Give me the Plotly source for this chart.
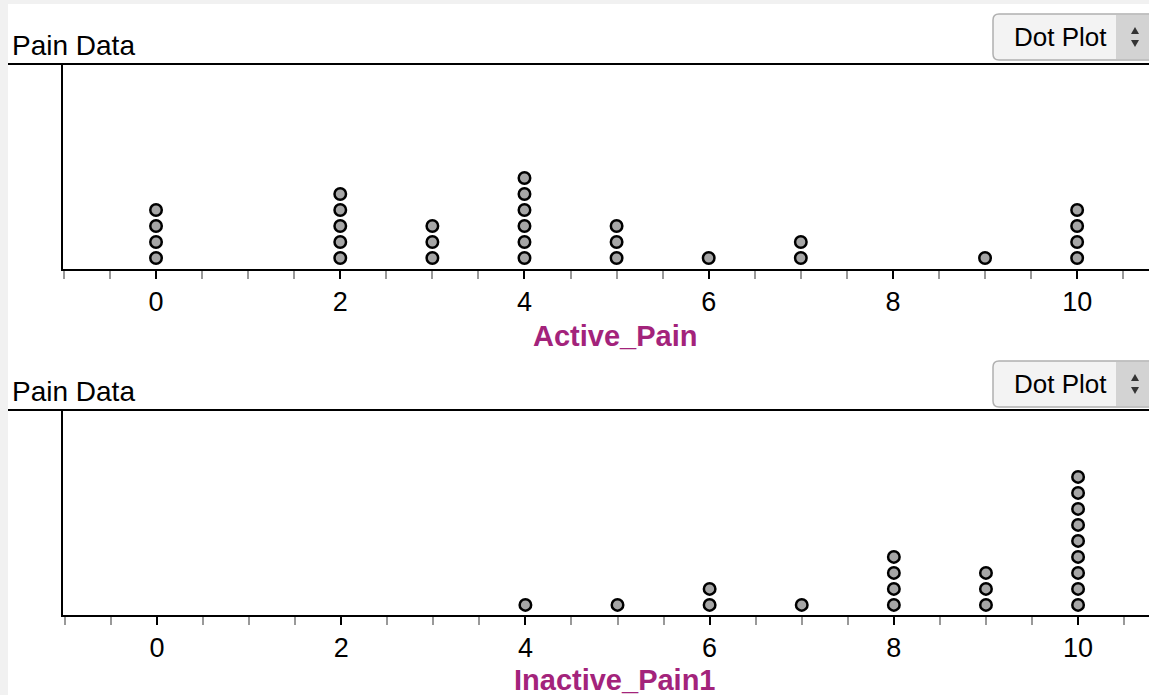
import plotly.graph_objects as go
from collections import Counter

# ---------------- data ----------------
active_pain = [0, 0, 0, 0,
               2, 2, 2, 2, 2,
               3, 3, 3,
               4, 4, 4, 4, 4, 4,
               5, 5, 5,
               6,
               7, 7,
               9,
               10, 10, 10, 10]
inactive_pain1 = [4,
                  5,
                  6, 6,
                  7,
                  8, 8, 8, 8,
                  9, 9, 9,
                  10, 10, 10, 10, 10, 10, 10, 10, 10]
tick_vals = [0, 2, 4, 6, 8, 10]
tick_text = ["0", "2", "4", "6", "8", "10"]
panel_title = "Pain Data"
attr_top = "Active_Pain"
attr_bottom = "Inactive_Pain1"
button_text = "Dot Plot"

W, H = 1149, 695


def px(x):
    return x / W


def py(y):
    return (H - y) / H


def stack(values):
    seen = Counter()
    xs, ys = [], []
    for v in values:
        xs.append(v)
        ys.append(seen[v])
        seen[v] += 1
    return xs, ys


fig = go.Figure()

marker = dict(size=11.5, color="#a6a6a6", line=dict(color="black", width=2.5))

x1, s1 = stack(active_pain)
x2, s2 = stack(inactive_pain1)
fig.add_trace(go.Scatter(x=x1, y=[s + 0.69 for s in s1], mode="markers",
                         marker=marker, xaxis="x", yaxis="y", hoverinfo="x"))
fig.add_trace(go.Scatter(x=x2, y=[s + 0.63 for s in s2], mode="markers",
                         marker=marker, xaxis="x2", yaxis="y2", hoverinfo="x"))

tick_font = dict(family="Liberation Sans, Arial", size=27, color="black")


def xaxis_cfg(anchor, rng):
    return dict(domain=[px(63), 1], range=rng, anchor=anchor,
                showline=True, linecolor="black", linewidth=2,
                ticks="outside", ticklen=8, tickwidth=2, tickcolor="black",
                tickvals=tick_vals, ticktext=tick_text, tickfont=tick_font,
                minor=dict(dtick=0.5, tick0=0, ticks="outside", ticklen=8,
                           tickwidth=2, tickcolor="#999999"),
                showgrid=False, zeroline=False, fixedrange=True)


def yaxis_cfg(anchor, top, bottom, rng):
    return dict(domain=[py(bottom), py(top)], range=rng, anchor=anchor,
                showline=True, linecolor="black", linewidth=2,
                showticklabels=False, ticks="", showgrid=False, zeroline=False,
                fixedrange=True)


fig.update_layout(
    width=W, height=H, margin=dict(l=0, r=0, t=0, b=0),
    paper_bgcolor="white", plot_bgcolor="white", showlegend=False,
    xaxis=xaxis_cfg("y", [-1.01, 10.78]),
    yaxis=yaxis_cfg("x", 64, 269, [0, 205 / 16]),
    xaxis2=xaxis_cfg("y2", [-1.02, 10.77]),
    yaxis2=yaxis_cfg("x2", 410, 615, [0, 205 / 16]),
)

shapes = []
# light gray window edges
shapes.append(dict(type="rect", xref="paper", yref="paper", x0=0, x1=px(8), y0=0, y1=1,
                   fillcolor="#f1f1f1", line=dict(width=0), layer="below"))
shapes.append(dict(type="rect", xref="paper", yref="paper", x0=0, x1=1, y0=py(4), y1=1,
                   fillcolor="#f1f1f1", line=dict(width=0), layer="below"))

annotations = []
for top_line, title_y, btn_top, btn_bot in [(64, 45, 14, 60), (410, 391, 361, 407)]:
    shapes.append(dict(type="line", xref="paper", yref="paper", x0=px(8), x1=1,
                       y0=py(top_line), y1=py(top_line), line=dict(color="black", width=2)))
    annotations.append(dict(text=panel_title, xref="paper", yref="paper", x=px(10), y=py(title_y),
                            xanchor="left", yanchor="middle", showarrow=False,
                            font=dict(family="Liberation Sans, Arial", size=28, color="black")))
    # button body
    l, r, t, b, rad = 993, 1152, btn_top, btn_bot, 6
    path = (f"M {px(l + rad)},{py(t)} L {px(r)},{py(t)} L {px(r)},{py(b)} L {px(l + rad)},{py(b)} "
            f"Q {px(l)},{py(b)} {px(l)},{py(b - rad)} L {px(l)},{py(t + rad)} "
            f"Q {px(l)},{py(t)} {px(l + rad)},{py(t)} Z")
    shapes.append(dict(type="path", xref="paper", yref="paper", path=path,
                       fillcolor="#f3f3f3", line=dict(color="#b0b0b0", width=1.5)))
    shapes.append(dict(type="rect", xref="paper", yref="paper", x0=px(1116), x1=1,
                       y0=py(b - 1), y1=py(t + 1), fillcolor="#d3d3d3", line=dict(width=0)))
    cx = 1135
    my = (t + b) / 2
    shapes.append(dict(type="path", xref="paper", yref="paper",
                       path=f"M {px(cx - 4)},{py(my - 3)} L {px(cx + 4)},{py(my - 3)} L {px(cx)},{py(my - 10)} Z",
                       fillcolor="#333", line=dict(width=0)))
    shapes.append(dict(type="path", xref="paper", yref="paper",
                       path=f"M {px(cx - 4)},{py(my + 3)} L {px(cx + 4)},{py(my + 3)} L {px(cx)},{py(my + 10)} Z",
                       fillcolor="#333", line=dict(width=0)))
    annotations.append(dict(text=button_text, xref="paper", yref="paper", x=px(1060), y=py(my),
                            xanchor="center", yanchor="middle", showarrow=False,
                            font=dict(family="Liberation Sans, Arial", size=26, color="black")))

for label, ly in [(attr_top, 336), (attr_bottom, 680)]:
    annotations.append(dict(text=f"<b>{label}</b>", xref="paper", yref="paper", x=px(615), y=py(ly),
                            xanchor="center", yanchor="middle", showarrow=False,
                            font=dict(family="Liberation Sans, Arial", size=29, color="#a3237b")))

fig.update_layout(shapes=shapes, annotations=annotations)
fig.write_html("out.html", config={"displayModeBar": False},
               post_script="document.body.style.margin='0';document.body.style.overflow='hidden';"
                           "document.documentElement.style.overflow='hidden';")
